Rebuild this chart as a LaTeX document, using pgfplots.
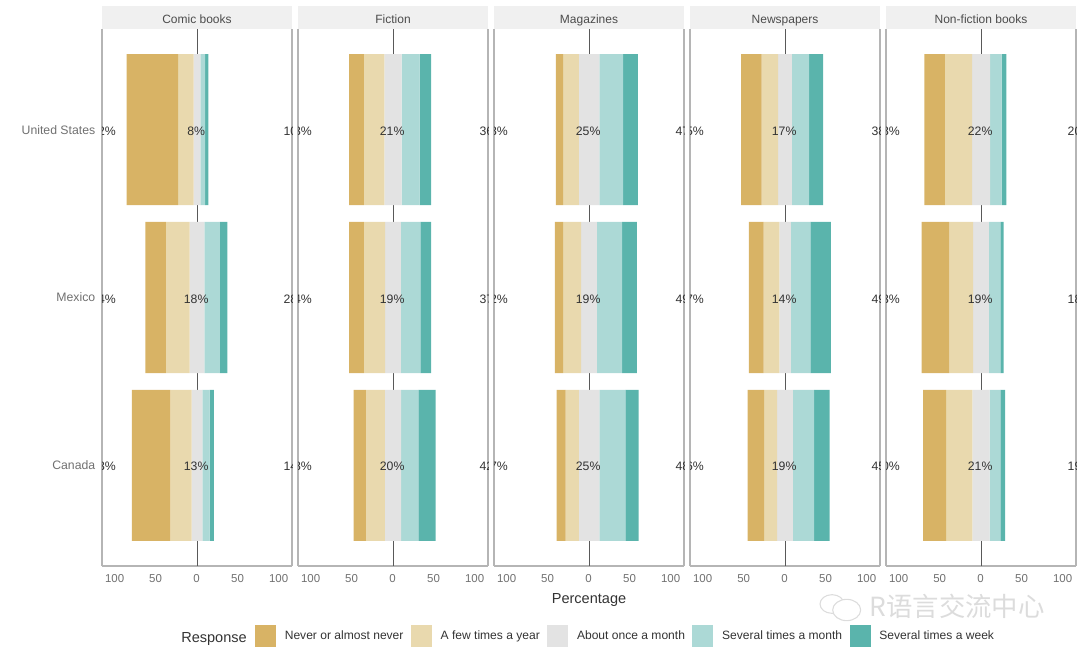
\documentclass[border=0pt]{standalone}
\usepackage{pgfplots}
\usepackage{pgfplotstable}
\usepackage{fontspec}
\setmainfont{Liberation Sans}
\newfontfamily\cjk{Noto Sans CJK SC}
\pgfplotsset{compat=1.18}
\definecolor{cA}{HTML}{D8B365}
\definecolor{cB}{HTML}{E9D9AE}
\definecolor{cC}{HTML}{E3E3E3}
\definecolor{cD}{HTML}{ACD9D6}
\definecolor{cE}{HTML}{5AB4AC}
\definecolor{strip}{HTML}{F0F0F0}
\definecolor{frame}{HTML}{B5B5B5}
\definecolor{tickgray}{HTML}{707070}
\definecolor{darktext}{HTML}{333333}
\definecolor{wm}{HTML}{DCDCDC}
% y: 3 United States, 2 Mexico, 1 Canada; start = left edge of the bar; a..e = segment widths (%)
\pgfplotstableread{
y start a b c d e
3 -86.0 63 19 8 6 4
2 -63.0 25 29 18 19 9
1 -79.5 47 26 13 9 5
}\tComic
\pgfplotstableread{
y start a b c d e
3 -53.5 18 25 21 22 14
2 -53.5 18 26 19 24 13
1 -48.0 15 23 20 21 21
}\tFiction
\pgfplotstableread{
y start a b c d e
3 -40.5 9 19 25 29 18
2 -41.5 10 22 19 31 18
1 -39.5 11 16 25 32 16
}\tMagazines
\pgfplotstableread{
y start a b c d e
3 -53.5 25 20 17 21 17
2 -44.0 18 19 14 24 25
1 -45.5 20 16 19 26 19
}\tNewspapers
\pgfplotstableread{
y start a b c d e
3 -69.0 25 33 22 14 6
2 -72.5 34 29 19 14 4
1 -70.5 28 32 21 13 6
}\tNonfiction
\pgfplotsset{
  panelbase/.style={
    scale only axis, width=142.5pt, height=402.75pt,
    anchor=north west,
    xmin=-115.9, xmax=115.9, ymin=0.4, ymax=3.6,
  },
  panel/.style={
    panelbase,
    xbar stacked, stack negative=on previous, bar width=0.9, bar shift=0pt,
    axis x line*=bottom, axis y line*=box,
    axis line style={frame, line width=0.95pt},
    xtick={-100,-50,0,50,100},
    xticklabels={100,50,0,50,100},
    ytick={1,2,3},
    yticklabels={},
    major tick length=0pt,
    tick style={draw=none},
    extra x ticks={0},
    extra x tick labels={},
    extra x tick style={grid=major, major grid style={draw=black!65, line width=0.7pt}},
    /pgf/number format/assume math mode=true,
    tick label style={font=\fontsize{8.6}{10}\selectfont, text=tickgray},
    xticklabel style={yshift=-3pt, xshift=-0.3pt},
    yticklabel style={font=\fontsize{9.2}{11}\selectfont, text=tickgray, xshift=-1.5pt},
    every axis title shift=0pt,
    title style={at={(0.5,1)}, anchor=south, fill=strip, minimum width=142.5pt,
      minimum height=17.25pt, inner sep=0pt, yshift=0pt, text=black!70,
      text height=9.5pt, text depth=0pt,
      font=\fontsize{9}{11}\selectfont},
    legend image code/.code={\fill[##1] (0pt,-7.9pt) rectangle (15.75pt,7.9pt);},
  },
  labelpanel/.style={panelbase, hide axis, clip mode=global},
  seg/.style={draw=none, fill=#1, forget plot},
}
\newcommand\bars[1]{%
  \addplot[draw=none, fill=none, forget plot] table[x=start, y=y] {#1};
  \addplot[seg=cA] table[x=a, y=y] {#1};
  \addplot[seg=cB] table[x=b, y=y] {#1};
  \addplot[seg=cC] table[x=c, y=y] {#1};
  \addplot[seg=cD] table[x=d, y=y] {#1};
  \addplot[seg=cE] table[x=e, y=y] {#1};
}
\newcommand\labs[4]{%
  \node[pct] at (axis cs:-114,#1) {#2\%};
  \node[pct] at (axis cs:-1,#1) {#3\%};
  \node[pct] at (axis cs:120.7,#1) {#4\%};
}
\tikzset{pct/.style={font=\fontsize{9.2}{11}\selectfont, text=darktext, inner sep=0pt, yshift=-1pt}}
\begin{document}
\begin{tikzpicture}
\useasboundingbox (0,0) rectangle (810pt,490.5pt);
\begin{axis}[panel, at={(76.5pt,468.75pt)}, title={Comic books},
  yticklabels={Canada,Mexico,United States}]
\bars{\tComic}
\end{axis}
\begin{axis}[labelpanel, at={(76.5pt,468.75pt)}]
\labs{3}{82}{8}{10}
\labs{2}{54}{18}{28}
\labs{1}{73}{13}{14}
\end{axis}
\begin{axis}[panel, at={(223.5pt,468.75pt)}, title={Fiction}]
\bars{\tFiction}
\end{axis}
\begin{axis}[labelpanel, at={(223.5pt,468.75pt)}]
\labs{3}{43}{21}{36}
\labs{2}{44}{19}{37}
\labs{1}{38}{20}{42}
\end{axis}
\begin{axis}[panel, at={(370.5pt,468.75pt)}, title={Magazines},
  xlabel={Percentage},
  xlabel style={font=\fontsize{10.9}{13}\selectfont, text=darktext, yshift=-1.5pt},
  legend columns=-1,
  legend style={at={(axis description cs:-1.2579,-0.1304)}, anchor=west, draw=none, fill=none,
    inner sep=0pt, outer sep=0pt, font=\fontsize{9.05}{10}\selectfont,
    /tikz/every even column/.append style={column sep=4.5pt},
    /tikz/every odd column/.append style={column sep=5.6pt},
    nodes={text=darktext, inner sep=1pt}}]
\bars{\tMagazines}
\addlegendimage{fill=cA, draw=none}\addlegendentry{Never or almost never}
\addlegendimage{fill=cB, draw=none}\addlegendentry{A few times a year}
\addlegendimage{fill=cC, draw=none}\addlegendentry{About once a month}
\addlegendimage{fill=cD, draw=none}\addlegendentry{Several times a month}
\addlegendimage{fill=cE, draw=none}\addlegendentry{Several times a week}
\end{axis}
\begin{axis}[labelpanel, at={(370.5pt,468.75pt)}]
\labs{3}{28}{25}{47}
\labs{2}{32}{19}{49}
\labs{1}{27}{25}{48}
\end{axis}
\begin{axis}[panel, at={(517.5pt,468.75pt)}, title={Newspapers}]
\bars{\tNewspapers}
\end{axis}
\begin{axis}[labelpanel, at={(517.5pt,468.75pt)}]
\labs{3}{45}{17}{38}
\labs{2}{37}{14}{49}
\labs{1}{36}{19}{45}
\end{axis}
\begin{axis}[panel, at={(664.5pt,468.75pt)}, title={Non-fiction books}]
\bars{\tNonfiction}
\end{axis}
\begin{axis}[labelpanel, at={(664.5pt,468.75pt)}]
\labs{3}{58}{22}{20}
\labs{2}{63}{19}{18}
\labs{1}{60}{21}{19}
\end{axis}
\node[anchor=west, inner sep=0pt, font=\fontsize{10.9}{13}\selectfont, text=darktext] at (135.75pt,11.5pt) {Response};
% watermark
\draw[wm, line width=0.8pt] (624pt,37.5pt) ellipse (9pt and 7pt);
\draw[wm, line width=0.8pt, fill=white] (635pt,33pt) ellipse (10.5pt and 8pt);
\node[anchor=west, inner sep=0pt, text=wm, font=\cjk\fontsize{19.8}{21}\selectfont] at (652pt,36pt) {R语言交流中心};
\end{tikzpicture}
\end{document}
